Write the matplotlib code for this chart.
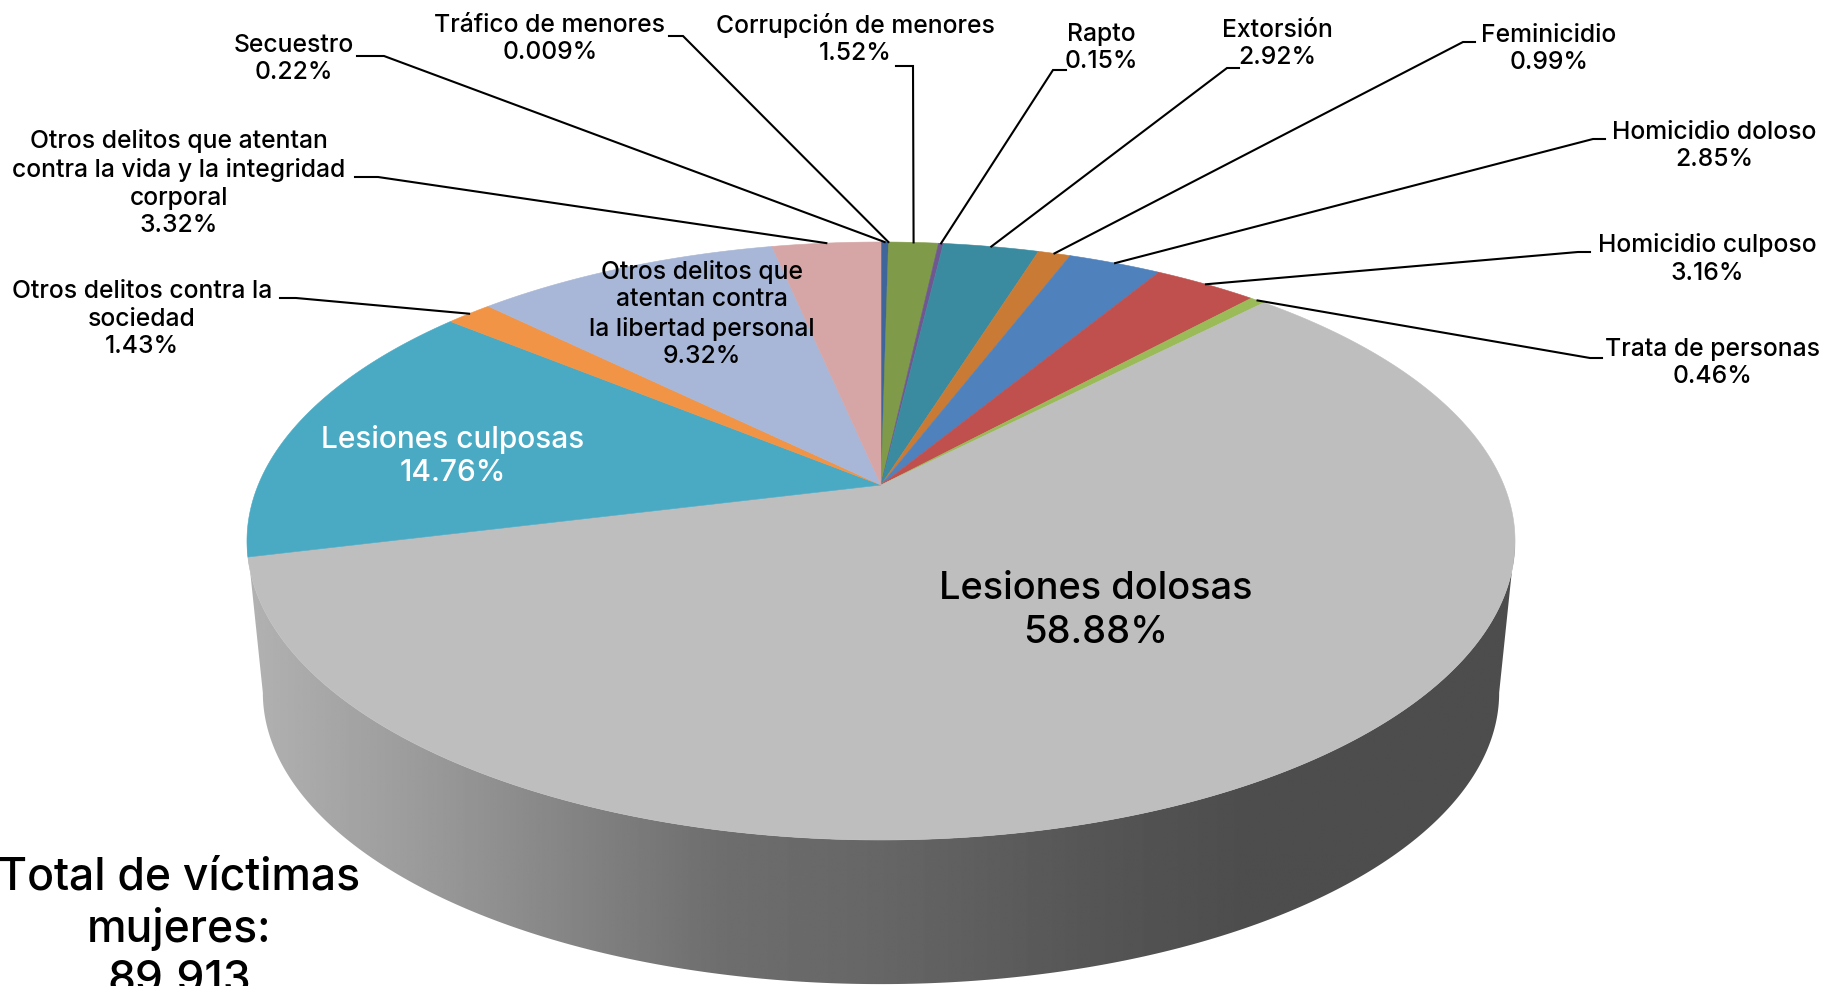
import numpy as np
import matplotlib.pyplot as plt
from matplotlib.patches import Polygon

plt.rcParams['font.family'] = ['Inter', 'DejaVu Sans']

# data, clockwise from 12 o'clock
labels = ['Secuestro', 'Tráfico de menores', 'Corrupción de menores', 'Rapto',
          'Extorsión', 'Feminicidio', 'Homicidio doloso', 'Homicidio culposo',
          'Trata de personas', 'Lesiones dolosas', 'Lesiones culposas',
          'Otros delitos contra la\nsociedad',
          'Otros delitos que\natentan contra\nla libertad personal',
          'Otros delitos que atentan\ncontra la vida y la integridad\ncorporal']
values = [0.22, 0.009, 1.52, 0.15, 2.92, 0.99, 2.85, 3.16, 0.46, 58.88, 14.76, 1.43, 9.32, 3.32]
pct_text = ['0.22%', '0.009%', '1.52%', '0.15%', '2.92%', '0.99%', '2.85%', '3.16%',
            '0.46%', '58.88%', '14.76%', '1.43%', '9.32%', '3.32%']
colors = ['#3F659B', '#3F659B', '#7F9A48', '#6F5890', '#3A8AA0', '#C97B35', '#4F81BD',
          '#C0504D', '#9BBB59', '#BEBEBE', '#4AAAC4', '#F29446', '#A8B7D7', '#D6A6A7']
total_text = 'Total de víctimas\nmujeres:\n89,913'

W, H = 1825, 986
fig = plt.figure(figsize=(W / 100, H / 100), dpi=100)
ax = fig.add_axes([0, 0, 1, 1])
ax.set_xlim(0, W)
ax.set_ylim(H, 0)
ax.axis('off')

# perspective projection of the pie disc
cx, cy = 881, 485
A, B, k = 622.8, 288.5, 0.1873
s_bot, d_bot = 0.975, 153


def proj(theta, scale=1.0, dy=0.0):
    t = np.radians(theta)
    X, Y = np.sin(t), np.cos(t)
    w = 1 + k * Y
    return cx + scale * A * X / w, cy + dy - scale * B * Y / w


vals = np.array(values)
ang = np.concatenate([[0], np.cumsum(vals) / vals.sum() * 360])
mids = (ang[:-1] + ang[1:]) / 2

# side (front wall) with horizontal gray gradient
t_sil = np.degrees(np.arccos(-k))
tt = np.linspace(t_sil, 360 - t_sil, 300)
xt, yt = proj(tt)
xb, yb = proj(tt[::-1], s_bot, d_bot)
side = Polygon(np.column_stack([np.r_[xt, xb], np.r_[yt, yb]]), closed=True,
               facecolor='none', edgecolor='none')
ax.add_patch(side)
gx = np.linspace(240, 1530, 600)
gv = np.interp(gx, [245, 440, 720, 880, 1100, 1250, 1530],
               [0xB2, 0x98, 0x6E, 0x66, 0x55, 0x4D, 0x4D]) / 255
img = ax.imshow(np.tile(gv, (2, 1)), cmap='gray', vmin=0, vmax=1, aspect='auto',
                extent=[240, 1530, 1000, 400], interpolation='bilinear', zorder=1)
img.set_clip_path(side)
ax.set_xlim(0, W)
ax.set_ylim(H, 0)

# top face wedges
for i in range(len(values)):
    t = np.linspace(ang[i], ang[i + 1], max(3, int((ang[i + 1] - ang[i]) * 3)))
    x, y = proj(t)
    ax.add_patch(Polygon(np.column_stack([np.r_[cx, x], np.r_[cy, y]]), closed=True,
                         facecolor=colors[i], edgecolor=colors[i], linewidth=0.4, zorder=2))

# outside labels: text centre, stub (inner x, outer x, y)
fs = 17.8
fw = 'medium'
outside = {
    0: ((294, 59), (357, 384, 56)),
    1: ((550, 39), (669, 683, 36)),
    2: ((855, 39), (896, 913, 66)),
    3: ((1101, 48), (1066, 1053, 70)),
    4: ((1277, 44), (1239, 1227, 68)),
    5: ((1549, 49), (1475, 1463, 42)),
    6: ((1714, 146), (1605, 1593, 139)),
    7: ((1707, 259), (1590, 1578, 252)),
    8: ((1713, 363), (1602, 1590, 358)),
    11: ((142, 319), (280, 296, 298)),
    13: ((179, 183), (355, 378, 177)),
}
for i, ((tx, ty), (s0, s1, sy)) in outside.items():
    ax.text(tx, ty, labels[i] + '\n' + pct_text[i], ha='center', va='center',
            fontsize=fs, fontweight=fw, linespacing=1.27, color='black', zorder=5)
    px, py = proj(mids[i])
    ax.plot([s0, s1, px], [sy, sy, py], color='black', lw=1.5, zorder=4,
            solid_joinstyle='miter')

# inside labels
ax.text(702, 314, labels[12] + '\n' + pct_text[12], ha='center', va='center',
        fontsize=fs, fontweight=fw, linespacing=1.27, color='black', zorder=5)
ax.text(453, 456, labels[10] + '\n' + pct_text[10], ha='center', va='center',
        fontsize=21.5, fontweight=fw, linespacing=1.24, color='white', zorder=5)
ax.text(1096, 611, labels[9] + '\n' + pct_text[9], ha='center', va='center',
        fontsize=27.4, fontweight=fw, linespacing=1.31, color='black', zorder=5)

ax.text(179, 929, total_text, ha='center', va='center', fontsize=32,
        fontweight=fw, linespacing=1.26, color='black', zorder=5)

fig.savefig('out.png', dpi=100)
